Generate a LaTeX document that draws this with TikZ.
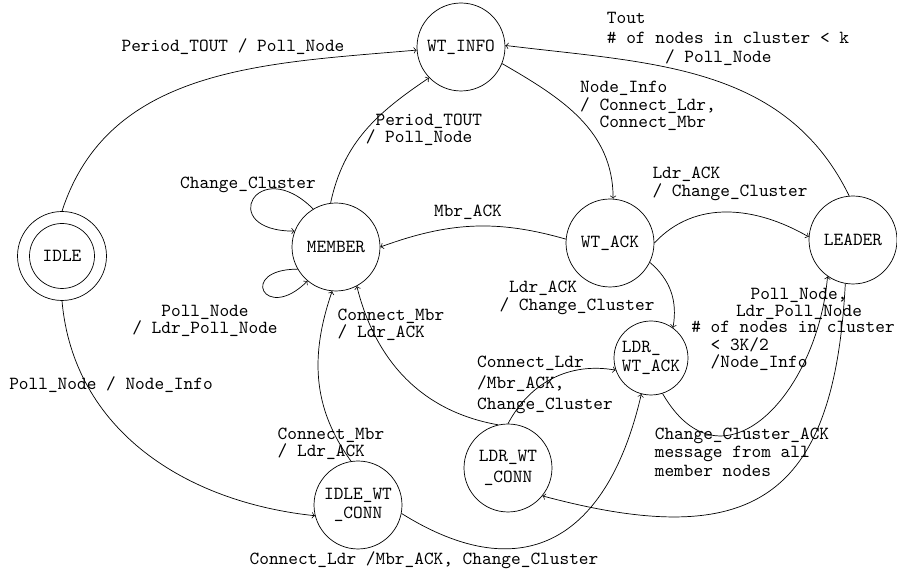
\documentclass[tikz,border=0pt]{standalone}
\begin{document}
\begin{tikzpicture}[x=0.02cm,y=-0.02cm,
	state/.style={circle,draw,minimum size=1.76cm,inner sep=0pt,font=\ttfamily\fontsize{10.5}{10.5}\selectfont,align=center},
	lbl/.style={inner sep=0pt,font=\ttfamily\fontsize{10.5}{10}\selectfont,align=left}]
		\useasboundingbox(0,0)rectangle(897,573);
		\node[state,minimum size=1.78cm](idle)at(62,256){};
		\node[state,minimum size=1.3cm](idlein)at(idle){IDLE};
		\node[state](wtinfo)at(461,47){WT\_INFO};
		\node[state](member)at(336,247){MEMBER};
		\node[state](wtack)at(610,243){WT\_ACK};
		\node[state](leader)at(853,240){LEADER};
		\node[state,minimum size=1.48cm,align=left](ldrwtack)at(651,358){LDR\_\\WT\_ACK};
		\node[state,font=\ttfamily\fontsize{10.5}{12}\selectfont](ldrwtconn)at(508,468){LDR\_WT\\\_CONN};
		\node[state](idlewtconn)at(358,505){IDLE\_WT\\\_CONN};
		\draw[->](idle.90)to[out=72,in=185](wtinfo.184);
		\draw[->](idle.-90)to[out=-85,in=174](idlewtconn.194);
		\draw[->](member.97)to[out=78,in=214](wtinfo.224);
		\draw[->](member.121)to[out=135,in=180,looseness=7](member.159);
		\draw[->](member.210)to[out=180,in=225,looseness=10](member.230);
		\draw[->](wtinfo.-22)to[out=-30,in=90](wtack.86);
		\draw[->](wtack.175)to[out=164,in=20](member.0);
		\draw[->](wtack.0)to[out=47,in=150](leader.176);
		\draw[->](leader.95)to[out=116,in=-7](wtinfo.2);
		\draw[->](wtack.-26)to[out=-40,in=80](ldrwtack.54);
		\draw[->](ldrwtack.-72)to[out=-60,in=-95,looseness=1.5](leader.-125);
		\draw[->](leader.-100)to[out=-93,in=-15,looseness=1.5](ldrwtconn.-39);
		\draw[->](idlewtconn.-11)to[out=-32,in=-103,looseness=1.4](ldrwtack.-105);
		\draw[->](ldrwtconn.90)to[out=62,in=170](ldrwtack.199);
		\draw[->](ldrwtconn.103)to[out=170,in=-76](member.-62);
		\draw[->](idlewtconn.99)to[out=126,in=-109](member.-95);
		\node[lbl](tperiod)at(233,47){Period\_TOUT / Poll\_Node};
		\node[lbl](tpollinfo)at(111,385){Poll\_Node / Node\_Info};
		\node[lbl](tmemtout)at(424,130){~Period\_TOUT\\/ Poll\_Node};
		\node[lbl](tchange)at(248,185){Change\_Cluster};
		\node[lbl,align=center](tpollldr)at(205,321){Poll\_Node\\/ Ldr\_Poll\_Node};
		\node[lbl](tnodeinfo)at(648,106){Node\_Info\\/ Connect\_Ldr,\\~~Connect\_Mbr};
		\node[lbl](tmbrack)at(468,212){Mbr\_ACK};
		\node[lbl](tldrack)at(730,184){Ldr\_ACK\\/ Change\_Cluster};
		\node[lbl,font=\ttfamily\fontsize{10.5}{11}\selectfont](ttout)at(728,39){Tout\\\# of nodes in cluster < k\\~~~~~~/ Poll\_Node};
		\node[lbl](tldrackb)at(577,298){~Ldr\_ACK\\/ Change\_Cluster};
		\node[lbl](tconnmbr)at(391,325){Connect\_Mbr\\/ Ldr\_ACK};
		\node[lbl](tconnmbrb)at(331,444){Connect\_Mbr\\/ Ldr\_ACK};
		\node[lbl](tconnldr)at(424,560){Connect\_Ldr /Mbr\_ACK, Change\_Cluster};
		\node[lbl,font=\ttfamily\fontsize{10.5}{12}\selectfont](tconnldrb)at(545,385){Connect\_Ldr\\/Mbr\_ACK,\\Change\_Cluster};
		\node[lbl,align=center](tpollleader)at(799,304){Poll\_Node,\\Ldr\_Poll\_Node};
		\node[lbl](tnodes)at(793,346){\# of nodes in cluster\\~~< 3K/2\\~~/Node\_Info};
		\node[lbl,font=\ttfamily\fontsize{10.5}{10.5}\selectfont](tccack)at(742,452){Change\_Cluster\_ACK\\message from all\\member nodes};
	\end{tikzpicture}
\end{document}
